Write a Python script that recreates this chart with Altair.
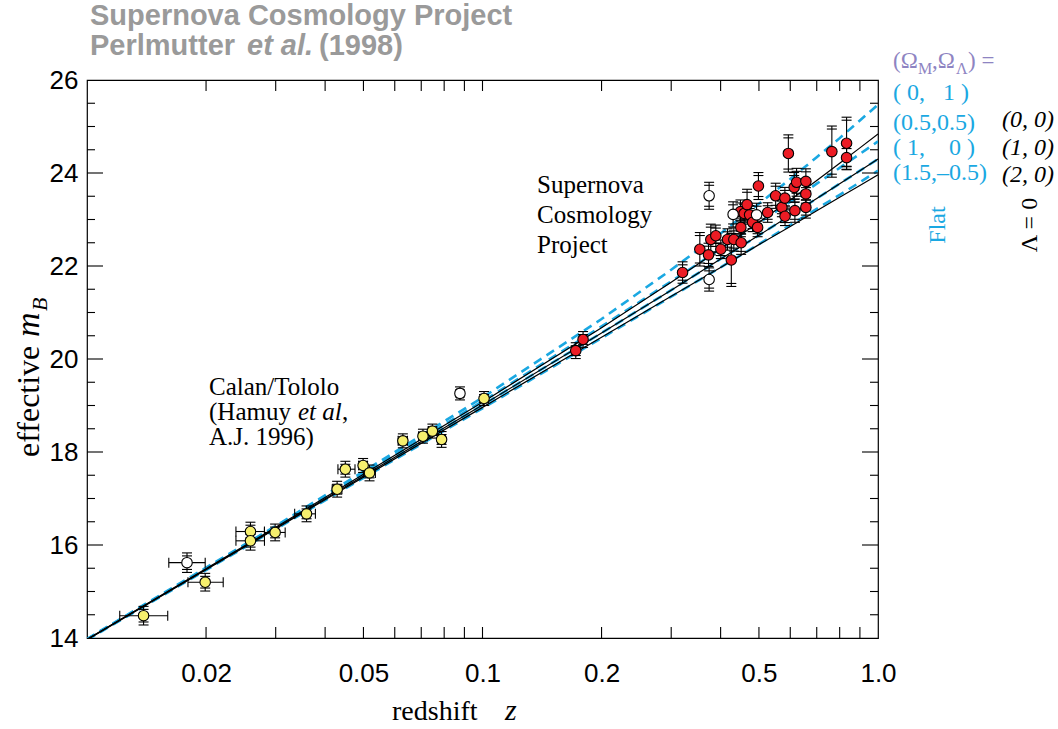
import altair as alt
import pandas as pd

# ---------------- data ----------------
# Calan/Tololo and other low-redshift supernovae
lz_z = [0.0139, 0.0179, 0.0199, 0.0259, 0.0259, 0.0299, 0.0359, 0.0429, 0.0450,
        0.0499, 0.0518, 0.0629, 0.0707, 0.0747, 0.0788, 0.0877, 0.1009]
lz_m = [14.48, 15.62, 15.20, 16.29, 16.09, 16.27, 16.67, 17.20, 17.63,
        17.71, 17.55, 18.24, 18.34, 18.45, 18.27, 19.26, 19.15]
lz_dm = [0.20, 0.21, 0.19, 0.20, 0.20, 0.18, 0.17, 0.17, 0.17,
         0.15, 0.17, 0.15, 0.15, 0.15, 0.17, 0.14, 0.15]
lz_zlo = [0.0121, 0.0161, 0.0180, 0.0238, 0.0238, 0.0281, 0.0335, 0.0417, 0.0431,
          0.0487, 0.0500, 0.0612, 0.0690, 0.0730, 0.0771, 0.0860, 0.0992]
lz_zhi = [0.0160, 0.0199, 0.0221, 0.0281, 0.0281, 0.0317, 0.0378, 0.0441, 0.0476,
          0.0511, 0.0536, 0.0646, 0.0724, 0.0764, 0.0805, 0.0894, 0.1026]
lz_kind = ["cal", "open", "cal", "cal", "cal", "cal", "cal", "cal", "cal",
           "cal", "cal", "cal", "cal", "cal", "cal", "open", "cal"]

# Supernova Cosmology Project high-redshift supernovae
hz_z = [0.1721, 0.1796, 0.3205, 0.3544, 0.3728, 0.3778, 0.3890, 0.4005, 0.4164,
        0.4257, 0.4320, 0.4508, 0.4500, 0.4490, 0.4587, 0.4666, 0.4735, 0.4818,
        0.4961, 0.4985, 0.5260, 0.5511, 0.5714, 0.5815, 0.5820, 0.5934, 0.6138,
        0.6164, 0.6225, 0.6571, 0.6571, 0.6571, 0.7644, 0.8328, 0.8328,
        0.3741, 0.3741, 0.4302, 0.4932]
hz_m = [20.18, 20.42, 21.86, 22.36, 22.24, 22.57, 22.65, 22.36, 22.57,
        22.13, 22.57, 22.50, 22.83, 23.17, 23.13, 23.32, 23.10, 22.94,
        22.83, 23.72, 23.15, 23.51, 23.26, 23.46, 23.07, 24.42, 23.69,
        23.19, 23.80, 23.82, 23.55, 23.26, 24.46, 24.64, 24.33,
        23.51, 21.71, 23.11, 23.10]
hz_dm = [0.17, 0.17, 0.23, 0.36, 0.25, 0.33, 0.23, 0.20, 0.23,
         0.57, 0.25, 0.25, 0.20, 0.25, 0.20, 0.33, 0.20, 0.20,
         0.20, 0.29, 0.21, 0.27, 0.20, 0.23, 0.20, 0.40, 0.32,
         0.25, 0.30, 0.27, 0.20, 0.23, 0.55, 0.56, 0.26,
         0.29, 0.25, 0.27, 0.25]
hz_kind = ["scp"] * 35 + ["open"] * 4

# Model magnitude-redshift relations for (Omega_M, Omega_Lambda)
curve_z = [0.01, 0.03, 0.1, 0.2, 0.3, 0.4, 0.5, 0.6, 0.7, 0.8, 0.9, 1.0]
m_0_0 = [13.97, 16.38, 19.07, 20.67, 21.65, 22.37, 22.94, 23.42, 23.84, 24.21, 24.54, 24.84]
m_1_0 = [13.97, 16.36, 19.01, 20.56, 21.48, 22.15, 22.66, 23.09, 23.45, 23.77, 24.05, 24.30]
m_2_0 = [13.96, 16.35, 18.96, 20.47, 21.35, 21.97, 22.46, 22.85, 23.19, 23.48, 23.73, 23.96]
m_0_1 = [13.98, 16.41, 19.17, 20.86, 21.92, 22.70, 23.34, 23.87, 24.34, 24.75, 25.13, 25.47]
m_05_05 = [13.97, 16.39, 19.09, 20.70, 21.67, 22.37, 22.93, 23.38, 23.77, 24.11, 24.41, 24.68]
m_15_m05 = [13.96, 16.34, 18.94, 20.45, 21.34, 21.97, 22.47, 22.88, 23.23, 23.53, 23.80, 24.05]

x_minor_ticks = [0.02, 0.03, 0.04, 0.05, 0.06, 0.07, 0.08, 0.09,
                 0.1, 0.2, 0.3, 0.4, 0.5, 0.6, 0.7, 0.8, 0.9]
x_tick_labels = [0.02, 0.05, 0.1, 0.2, 0.5, 1.0]
y_major_ticks = [16, 18, 20, 22, 24]
y_minor_ticks = [14.5, 15, 15.5, 16.5, 17, 17.5, 18.5, 19, 19.5, 20.5, 21, 21.5,
                 22.5, 23, 23.5, 24.5, 25, 25.5]
y_tick_labels = [14, 16, 18, 20, 22, 24, 26]

# ---------------- tables ----------------
low = pd.DataFrame({"z": lz_z, "m": lz_m, "dm": lz_dm, "zlo": lz_zlo,
                    "zhi": lz_zhi, "kind": lz_kind})
high = pd.DataFrame({"z": hz_z, "m": hz_m, "dm": hz_dm, "kind": hz_kind})
pts = pd.concat([low[["z", "m", "dm", "kind"]], high], ignore_index=True)
pts["lo"] = pts["m"] - pts["dm"]
pts["hi"] = pts["m"] + pts["dm"]

flat = pd.concat([
    pd.DataFrame({"z": curve_z, "m": m, "model": name})
    for name, m in [("0,1", m_0_1), ("0.5,0.5", m_05_05), ("1,0", m_1_0), ("1.5,-0.5", m_15_m05)]
])
lam0 = pd.concat([
    pd.DataFrame({"z": curve_z, "m": m, "model": name})
    for name, m in [("0,0", m_0_0), ("1,0", m_1_0), ("2,0", m_2_0)]
])

W, H = 791, 558
SERIF = "Liberation Serif"
SANS = "Liberation Sans"
BLUE = "#1aa8e2"

xs = alt.Scale(type="log", domain=[0.01, 1.0], nice=False, zero=False)
ys = alt.Scale(domain=[14, 26], nice=False, zero=False)
xaxis = alt.Axis(values=x_tick_labels, ticks=False, domain=False, grid=False, title=None,
                 labelExpr="datum.value >= 1 ? '1.0' : toString(datum.value)",
                 labelFont=SANS, labelFontSize=26, labelPadding=22, labelColor="black",
                 labelFlush=False, labelOverlap=False, labelBound=False)
yaxis = alt.Axis(values=y_tick_labels, ticks=False, domain=False, grid=False, title=None,
                 labelFont=SANS, labelFontSize=26, labelPadding=9, labelColor="black",
                 labelFlush=False, labelOverlap=False, labelBound=False)


def X(f):
    return alt.X(f, type="quantitative", scale=xs, axis=xaxis)


def Y(f):
    return alt.Y(f, type="quantitative", scale=ys, axis=yaxis)


# model curves
flat_lines = alt.Chart(flat).mark_line(color=BLUE, strokeWidth=2.6, strokeDash=[9, 6], clip=True).encode(
    x=X("z"), y=Y("m"), detail="model:N")
lam0_lines = alt.Chart(lam0).mark_line(color="black", strokeWidth=1.2, clip=True).encode(
    x=X("z"), y=Y("m"), detail="model:N")

# frame ticks (drawn inward on all four sides)
xt = pd.DataFrame({"t": x_minor_ticks})
ytM = pd.DataFrame({"t": y_major_ticks})
ytm = pd.DataFrame({"t": y_minor_ticks})
tick_style = dict(color="black", strokeWidth=1.1)
ticks = [
    alt.Chart(xt).mark_rule(**tick_style).encode(x=X("t"), y=alt.value(H), y2=alt.value(H - 11)),
    alt.Chart(xt).mark_rule(**tick_style).encode(x=X("t"), y=alt.value(0), y2=alt.value(11)),
    alt.Chart(ytM).mark_rule(**tick_style).encode(y=Y("t"), x=alt.value(0), x2=alt.value(16)),
    alt.Chart(ytM).mark_rule(**tick_style).encode(y=Y("t"), x=alt.value(W), x2=alt.value(W - 16)),
    alt.Chart(ytm).mark_rule(**tick_style).encode(y=Y("t"), x=alt.value(0), x2=alt.value(8)),
    alt.Chart(ytm).mark_rule(**tick_style).encode(y=Y("t"), x=alt.value(W), x2=alt.value(W - 8)),
]

# error bars
eb = dict(color="black", strokeWidth=1.1)
ybars = alt.Chart(pts).mark_rule(**eb).encode(x=X("z"), y=Y("lo"), y2="hi")
caps = [
    alt.Chart(pts).mark_rule(xOffset=-5, x2Offset=5, yOffset=off, **eb).encode(x=X("z"), x2="z", y=Y(f))
    for f, off in [("hi", 0), ("hi", 3), ("lo", 0), ("lo", -3)]
]
xbars = alt.Chart(low).mark_rule(**eb).encode(x=X("zlo"), x2="zhi", y=Y("m"))
xcaps = [
    alt.Chart(low).mark_rule(yOffset=-5, y2Offset=5, **eb).encode(x=X(f), y=Y("m"), y2="m")
    for f in ["zlo", "zhi"]
]

points = alt.Chart(pts).mark_point(shape="circle", filled=True, size=110, stroke="black",
                                   strokeWidth=1.1, opacity=1).encode(
    x=X("z"), y=Y("m"),
    color=alt.Color("kind:N", scale=alt.Scale(domain=["scp", "cal", "open"],
                                              range=["#ec1c24", "#f6ef6e", "#ffffff"]),
                    legend=None))

one = pd.DataFrame({"k": [0]})


def label(txt, x, y, size, font=SERIF, color="black", style="normal", weight="normal",
          align="left", baseline="alphabetic", angle=0):
    return alt.Chart(one).mark_text(fontSize=size, font=font, color=color, fontStyle=style,
                                    fontWeight=weight, align=align, baseline=baseline,
                                    angle=angle).encode(
        x=alt.value(x), y=alt.value(y), text=alt.value(txt))


GRAY = "#9a9a9a"
PURPLE = "#8e84c2"
NB = "\u00a0"
texts = [
    # heading
    label("Supernova Cosmology Project", 3, -55, 29, font=SANS, color=GRAY, weight="bold"),
    label("Perlmutter", 3, -25, 29, font=SANS, color=GRAY, weight="bold"),
    label("et al.", 160, -25, 29, font=SANS, color=GRAY, weight="bold", style="italic"),
    label("(1998)", 232, -25, 29, font=SANS, color=GRAY, weight="bold"),
    # in-plot annotations
    label("Supernova", 450, 113, 25),
    label("Cosmology", 450, 143, 25),
    label("Project", 450, 173, 25),
    label("Calan/Tololo", 122, 315, 25),
    label("(Hamuy", 122, 340, 25),
    label("et al", 211, 340, 25, style="italic"),
    label(",", 255, 340, 25),
    label("A.J. 1996)", 122, 365, 25),
    # axis titles
    label("redshift", 305, 640, 28),
    label("z", 418, 640, 30, style="italic"),
    label("effective", -48, 377, 32, angle=270),
    label("m", -48, 257, 34, style="italic", angle=270),
    label("B", -40, 231, 22, style="italic", angle=270),
    # model key
    label("(\u03a9", 806, -12, 23, color=PURPLE),
    label("M", 831, -6, 16, color=PURPLE),
    label(",\u03a9", 845, -12, 23, color=PURPLE),
    label("\u039b", 869, -6, 16, color=PURPLE),
    label(")" + NB + "=", 881, -12, 23, color=PURPLE),
    label("(" + NB + "0," + NB * 3 + "1" + NB + ")", 806, 13, 24, color=BLUE, baseline="middle"),
    label("(0.5,0.5)", 806, 43, 24, color=BLUE, baseline="middle"),
    label("(" + NB + "1," + NB * 4 + "0" + NB + ")", 806, 68, 24, color=BLUE, baseline="middle"),
    label("(1.5,\u20130.5)", 806, 93, 24, color=BLUE, baseline="middle"),
    label("(0, 0)", 915, 40, 24, style="italic", baseline="middle"),
    label("(1, 0)", 915, 68, 24, style="italic", baseline="middle"),
    label("(2, 0)", 915, 95, 24, style="italic", baseline="middle"),
    label("Flat", 851, 145, 24, color=BLUE, align="center", baseline="middle", angle=270),
    label("\u039b = 0", 943, 145, 24, align="center", baseline="middle", angle=270),
]

chart = alt.layer(
    flat_lines, lam0_lines, *ticks, xbars, *xcaps, ybars, *caps, points, *texts
).properties(
    width=W, height=H,
    autosize=alt.AutoSizeParams(type="none"),
    padding={"left": 87, "top": 80, "right": 180, "bottom": 91},
    background="white",
).configure_view(stroke="black", strokeWidth=1.2)

chart.save("out.html", embed_options={"renderer": "svg", "actions": False})
